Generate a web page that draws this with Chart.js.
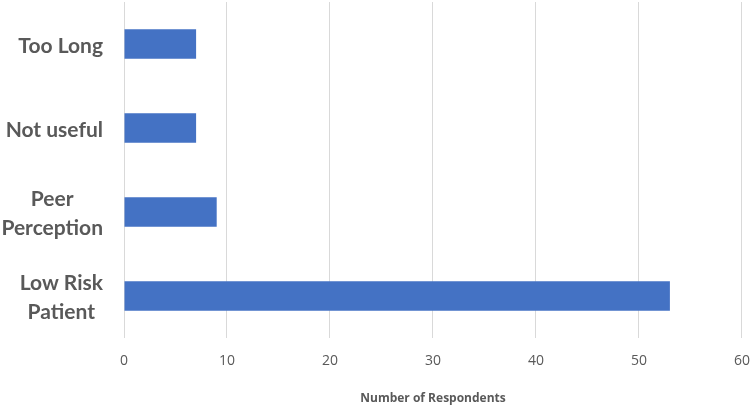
<!DOCTYPE html>
<html>
<head>
<meta charset="utf-8">
<script src="https://cdn.jsdelivr.net/npm/chart.js"></script>
<style>
  html, body { margin: 0; padding: 0; background: #fff; }
  #wrap { width: 750px; height: 408px; }
</style>
</head>
<body>
<div id="wrap"><canvas id="barChart"></canvas></div>
<script>
// reasons for not using the tool
const reasons = [["Too Long"], ["Not useful"], ["Peer", "Perception"], ["Low Risk", "Patient"]];
const respondents = [7, 7, 9, 53];
const xTicks = [0, 10, 20, 30, 40, 50, 60];

const labelFont = "bold 21px Lato";
const labelColor = "#595959";

// draws the category labels: block right-aligned, lines centered inside the block
const catLabels = {
  id: "catLabels",
  afterDraw(chart) {
    const ctx = chart.ctx;
    const yScale = chart.scales.y;
    const rightEdge = chart.chartArea.left - 21;
    const lineH = 29;
    ctx.save();
    ctx.font = labelFont;
    ctx.fillStyle = labelColor;
    ctx.textAlign = "center";
    ctx.textBaseline = "middle";
    reasons.forEach((lines, i) => {
      const cy = yScale.getPixelForValue(i) + 2;
      const w = Math.max(...lines.map((l) => ctx.measureText(l).width));
      const cx = rightEdge - w / 2;
      const top = cy - ((lines.length - 1) * lineH) / 2;
      lines.forEach((l, j) => ctx.fillText(l, cx, top + j * lineH));
    });
    ctx.restore();
  },
};

new Chart(document.getElementById("barChart").getContext("2d"), {
  type: "bar",
  data: {
    labels: reasons,
    datasets: [
      {
        label: "Number of Respondents",
        data: respondents,
        backgroundColor: "#4472C4",
        categoryPercentage: 1,
        barPercentage: 0.35,
      },
    ],
  },
  options: {
    indexAxis: "y",
    responsive: true,
    maintainAspectRatio: false,
    animation: false,
    layout: { padding: { top: 2, right: 0 } },
    plugins: {
      legend: { display: false },
      tooltip: { enabled: false },
    },
    scales: {
      x: {
        min: 0,
        max: 60,
        afterBuildTicks: (axis) => {
          axis.ticks = xTicks.map((v) => ({ value: v }));
        },
        // invisible tick marks push the labels down without widening the side padding
        grid: { color: "#d9d9d9", lineWidth: 1, drawTicks: true, tickLength: 15, tickColor: "rgba(0,0,0,0)" },
        border: { display: false },
        ticks: {
          color: "#595959",
          font: { family: "Open Sans", size: 14 },
          padding: 0,
        },
        title: {
          display: true,
          text: "Number of Respondents",
          color: "#595959",
          font: { family: "Open Sans", size: 12, weight: "bold" },
          padding: { top: 17, bottom: 2 },
        },
        afterFit: (axis) => {
          axis.height = 70;
        },
      },
      y: {
        grid: { display: false },
        border: { display: false },
        ticks: { display: false },
        afterFit: (axis) => {
          axis.width = 124;
        },
      },
    },
  },
  plugins: [catLabels],
});
</script>
</body>
</html>
